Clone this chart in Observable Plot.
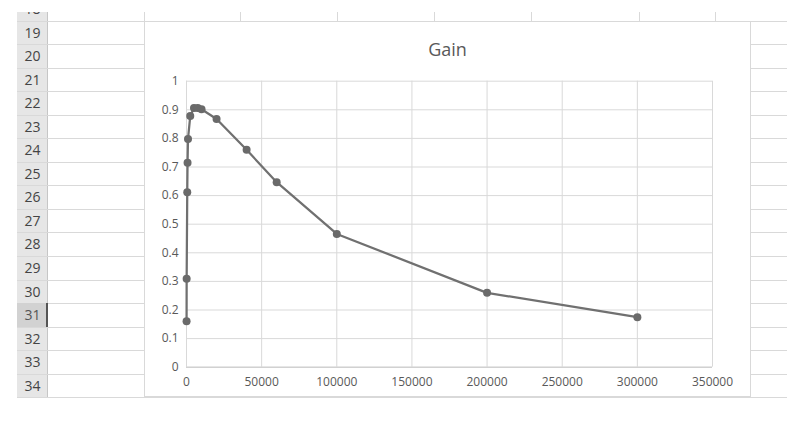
<!DOCTYPE html>
<html><head><meta charset="utf-8">
<script src="https://cdn.jsdelivr.net/npm/d3@7"></script>
<script src="https://cdn.jsdelivr.net/npm/@observablehq/plot@0.6"></script>
<style>
body{margin:0;background:#fff;width:803px;height:421px;overflow:hidden;font-family:"Open Sans",sans-serif;position:relative}
#sheet{position:absolute;left:17px;top:12px;width:770px;height:386px;overflow:hidden;background:#fff}
#hdr{position:absolute;left:0;top:0;width:31px;height:386px;background:#e6e6e6;border-right:1px solid #c6c6c6;box-sizing:border-box}
.hl{position:absolute;height:1px;background:#d9d9d9}
.vl{position:absolute;width:1px;background:#d9d9d9}
.num{position:absolute;left:0;width:31px;text-align:center;font-size:14px;color:#444;line-height:23px}
#chart{position:absolute;left:144px;top:21px;width:607px;height:376px;background:#fff}
#border{position:absolute;left:144px;top:21px;width:607px;height:376px;border:1px solid #d9d9d9;box-sizing:border-box;pointer-events:none}
#title{position:absolute;left:0;width:607px;top:16px;text-align:center;font-size:18px;color:#595959}
#plot{position:absolute;left:0;top:0}
</style>
</head><body>
<div id="sheet"><div id="hdr"></div></div>
<div id="chart"><div id="plot"></div><div id="title">Gain</div></div>
<div id="border"></div>
<script>
// data
const gainX = [50, 100, 500, 700, 1000, 2500, 5000, 7500, 10000, 20000, 40000, 60000, 100000, 200000, 300000];
const gainY = [0.161, 0.309, 0.612, 0.715, 0.798, 0.878, 0.906, 0.906, 0.902, 0.868, 0.760, 0.647, 0.466, 0.260, 0.175];
const xTicks = [0, 50000, 100000, 150000, 200000, 250000, 300000, 350000];
const yTicks = [0, 0.1, 0.2, 0.3, 0.4, 0.5, 0.6, 0.7, 0.8, 0.9, 1];
const rowLabels = [18, 19, 20, 21, 22, 23, 24, 25, 26, 27, 28, 29, 30, 31, 32, 33, 34];
const selectedRow = 31;

// spreadsheet background
const sheet = document.getElementById("sheet");
const rowH = 23.53, firstLine = 20.7 - 12;
rowLabels.forEach((r, i) => {
  const top = firstLine + (i - 1) * rowH;
  if (r === selectedRow) {
    const s = document.createElement("div");
    s.style.cssText = `position:absolute;left:0;top:${top}px;width:31px;height:${rowH}px;background:#d2d2d2;border-right:2px solid #555;box-sizing:border-box`;
    sheet.appendChild(s);
  }
  const n = document.createElement("div");
  n.className = "num";
  n.style.top = top + "px";
  n.style.height = rowH + "px";
  n.style.lineHeight = rowH + "px";
  if (r === selectedRow) n.style.color = "#555";
  n.textContent = r;
  sheet.appendChild(n);
  const l = document.createElement("div");
  l.className = "hl";
  l.style.top = Math.min(top + rowH, 385) + "px";
  l.style.left = "0px";
  l.style.width = "770px";
  sheet.appendChild(l);
});
[127, 223, 320, 417, 514, 622, 698].forEach(x => {
  const v = document.createElement("div");
  v.className = "vl";
  v.style.left = x + "px";
  v.style.top = "0px";
  v.style.height = "386px";
  sheet.appendChild(v);
});

const data = gainX.map((x, i) => ({x, y: gainY[i]}));
const chart = Plot.plot({
  width: 607,
  height: 376,
  marginLeft: 42,
  marginRight: 39,
  marginTop: 59.7,
  marginBottom: 30.3,
  style: {fontFamily: "'Open Sans', sans-serif", fontSize: "12px", color: "#595959", background: "transparent"},
  x: {domain: [0, 350000]},
  y: {domain: [0, 1]},
  marks: [
    Plot.gridX(xTicks, {stroke: "#d9d9d9", strokeOpacity: 1}),
    Plot.gridY(yTicks, {stroke: "#d9d9d9", strokeOpacity: 1}),
    Plot.ruleY([0], {stroke: "#c8c8c8"}),
    Plot.axisX(xTicks, {tickSize: 0, tickPadding: 10, tickFormat: d => String(d), label: null}),
    Plot.axisY(yTicks, {tickSize: 0, tickPadding: 8, tickFormat: d => String(d), label: null}),
    Plot.line(data, {x: "x", y: "y", stroke: "#707070", strokeWidth: 2.25}),
    Plot.dot(data, {x: "x", y: "y", r: 4, fill: "#6a6a6a", stroke: "none"})
  ]
});
document.getElementById("plot").appendChild(chart);
</script>
</body></html>
